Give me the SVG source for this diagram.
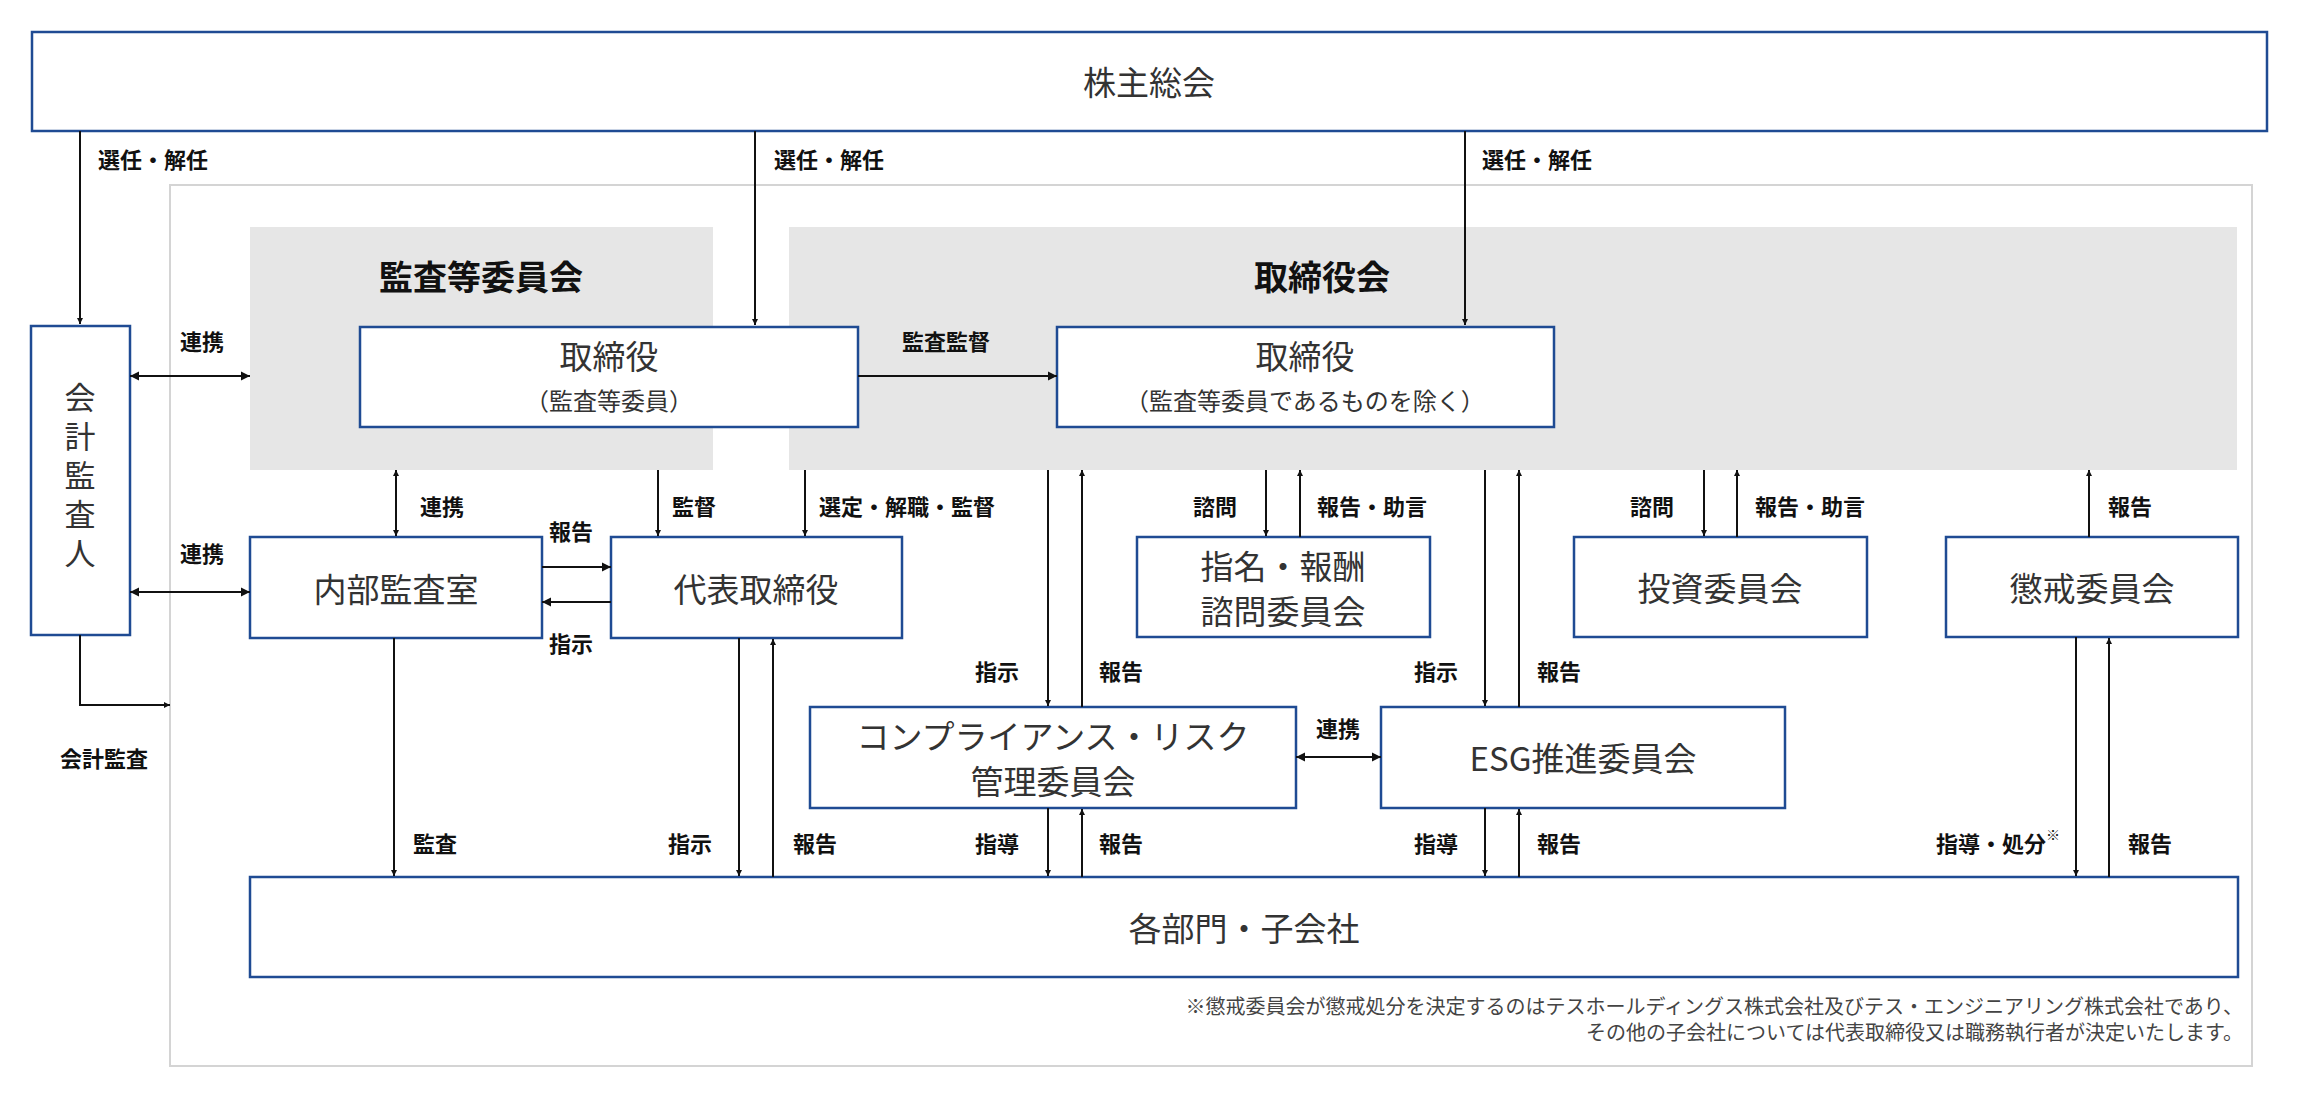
<svg xmlns="http://www.w3.org/2000/svg" width="2304" height="1100" viewBox="0 0 2304 1100">
<style>
.box{fill:#fff;stroke:#1f4b93;stroke-width:2.5}
.panel{fill:#e6e6e6}
.t{font-family:"Noto Sans CJK JP","Noto Sans",sans-serif;fill:#333;text-anchor:middle;dominant-baseline:central}
.n{font-size:33px}
.s{font-size:24px}
.h{font-size:34px;font-weight:bold;fill:#111}
.l{font-family:"Noto Sans CJK JP","Noto Sans",sans-serif;font-size:22px;font-weight:bold;fill:#111;dominant-baseline:central}
.c{stroke:#111;stroke-width:2;fill:none}
.f{font-family:"Noto Sans CJK JP","Noto Sans",sans-serif;font-size:20px;fill:#444;text-anchor:end}
</style>
<defs>
<marker id="a" viewBox="0 0 10 10" refX="10" refY="5" markerWidth="6" markerHeight="8" orient="auto-start-reverse" markerUnits="userSpaceOnUse"><path d="M0,0L10,5L0,10z" fill="#111"/></marker>
<marker id="b" viewBox="0 0 10 10" refX="10" refY="5" markerWidth="9" markerHeight="12" orient="auto-start-reverse" markerUnits="userSpaceOnUse"><path d="M0,0L10,5L0,10z" fill="#111"/></marker>
</defs>
<rect x="170" y="185" width="2082" height="881" fill="none" stroke="#d4d4d4" stroke-width="2"/>
<g id="panel-audit"><rect class="panel" x="250" y="227" width="463" height="243"/><text class="t h" x="481" y="275">監査等委員会</text></g>
<g id="panel-board"><rect class="panel" x="789" y="227" width="1448" height="243"/><text class="t h" x="1322" y="275">取締役会</text></g>
<g id="shareholders"><rect class="box" x="32" y="32" width="2235" height="99"/><text class="t n" x="1149" y="81">株主総会</text></g>
<g id="auditor"><rect class="box" x="31" y="326" width="99" height="309"/>
<text x="80" y="479" writing-mode="vertical-rl" text-anchor="middle" letter-spacing="8" font-family="Noto Sans CJK JP, Noto Sans, sans-serif" font-size="31" fill="#333">会計監査人</text></g>
<g id="director-ac"><rect class="box" x="360" y="327" width="498" height="100"/><text class="t n" x="609" y="355">取締役</text><text class="t s" x="609" y="399">（監査等委員）</text></g>
<g id="director"><rect class="box" x="1057" y="327" width="497" height="100"/><text class="t n" x="1305" y="355">取締役</text><text class="t s" x="1305" y="399">（監査等委員であるものを除く）</text></g>
<g id="internal-audit"><rect class="box" x="250" y="537" width="292" height="101"/><text class="t n" x="396" y="588">内部監査室</text></g>
<g id="ceo"><rect class="box" x="611" y="537" width="291" height="101"/><text class="t n" x="756" y="588">代表取締役</text></g>
<g id="nomination"><rect class="box" x="1137" y="537" width="293" height="100"/><text class="t n" x="1283" y="565">指名・報酬</text><text class="t n" x="1283" y="610">諮問委員会</text></g>
<g id="investment"><rect class="box" x="1574" y="537" width="293" height="100"/><text class="t n" x="1720" y="587">投資委員会</text></g>
<g id="discipline"><rect class="box" x="1946" y="537" width="292" height="100"/><text class="t n" x="2092" y="587">懲戒委員会</text></g>
<g id="compliance"><rect class="box" x="810" y="707" width="486" height="101"/><text class="t n" x="1053" y="735">コンプライアンス・リスク</text><text class="t n" x="1053" y="780">管理委員会</text></g>
<g id="esg"><rect class="box" x="1381" y="707" width="404" height="101"/><text class="t n" x="1583" y="757">ESG推進委員会</text></g>
<g id="departments"><rect class="box" x="250" y="877" width="1988" height="100"/><text class="t n" x="1244" y="927">各部門・子会社</text></g>
<g id="connectors">
<path class="c" d="M80,131V324" marker-end="url(#a)"/>
<path class="c" d="M755,131V325" marker-end="url(#a)"/>
<path class="c" d="M1465,131V325" marker-end="url(#a)"/>
<path class="c" d="M130,376H250" marker-start="url(#b)" marker-end="url(#b)"/>
<path class="c" d="M858,376H1057" marker-end="url(#b)"/>
<path class="c" d="M130,592H250" marker-start="url(#b)" marker-end="url(#b)"/>
<path class="c" d="M80,635V705H170" marker-end="url(#a)"/>
<path class="c" d="M396,470V536" marker-start="url(#a)" marker-end="url(#a)"/>
<path class="c" d="M658,470V536" marker-end="url(#a)"/>
<path class="c" d="M805,470V536" marker-end="url(#a)"/>
<path class="c" d="M542,567H611" marker-end="url(#b)"/>
<path class="c" d="M611,602H542" marker-end="url(#b)"/>
<path class="c" d="M1048,470V706" marker-end="url(#a)"/>
<path class="c" d="M1082,707V470" marker-end="url(#a)"/>
<path class="c" d="M1266,470V536" marker-end="url(#a)"/>
<path class="c" d="M1300,537V470" marker-end="url(#a)"/>
<path class="c" d="M1485,470V706" marker-end="url(#a)"/>
<path class="c" d="M1519,707V470" marker-end="url(#a)"/>
<path class="c" d="M1704,470V536" marker-end="url(#a)"/>
<path class="c" d="M1737,537V470" marker-end="url(#a)"/>
<path class="c" d="M2089,537V470" marker-end="url(#a)"/>
<path class="c" d="M1296,757H1381" marker-start="url(#b)" marker-end="url(#b)"/>
<path class="c" d="M394,638V876" marker-end="url(#a)"/>
<path class="c" d="M739,638V876" marker-end="url(#a)"/>
<path class="c" d="M773,877V639" marker-end="url(#a)"/>
<path class="c" d="M1048,808V876" marker-end="url(#a)"/>
<path class="c" d="M1082,877V809" marker-end="url(#a)"/>
<path class="c" d="M1485,808V876" marker-end="url(#a)"/>
<path class="c" d="M1519,877V809" marker-end="url(#a)"/>
<path class="c" d="M2076,637V876" marker-end="url(#a)"/>
<path class="c" d="M2109,877V638" marker-end="url(#a)"/>
</g>
<g id="labels">
<text class="l" x="98" y="158">選任・解任</text>
<text class="l" x="774" y="158">選任・解任</text>
<text class="l" x="1482" y="158">選任・解任</text>
<text class="l" x="180" y="340">連携</text>
<text class="l" x="902" y="340">監査監督</text>
<text class="l" x="180" y="552">連携</text>
<text class="l" x="420" y="505">連携</text>
<text class="l" x="672" y="505">監督</text>
<text class="l" x="819" y="505">選定・解職・監督</text>
<text class="l" x="549" y="530">報告</text>
<text class="l" x="549" y="642">指示</text>
<text class="l" x="60" y="757">会計監査</text>
<text class="l" x="1193" y="505">諮問</text>
<text class="l" x="1317" y="505">報告・助言</text>
<text class="l" x="1630" y="505">諮問</text>
<text class="l" x="1755" y="505">報告・助言</text>
<text class="l" x="2108" y="505">報告</text>
<text class="l" x="975" y="670">指示</text>
<text class="l" x="1099" y="670">報告</text>
<text class="l" x="1414" y="670">指示</text>
<text class="l" x="1537" y="670">報告</text>
<text class="l" x="1338" y="727" text-anchor="middle">連携</text>
<text class="l" x="413" y="842">監査</text>
<text class="l" x="668" y="842">指示</text>
<text class="l" x="793" y="842">報告</text>
<text class="l" x="975" y="842">指導</text>
<text class="l" x="1099" y="842">報告</text>
<text class="l" x="1414" y="842">指導</text>
<text class="l" x="1537" y="842">報告</text>
<text class="l" x="2060" y="842" text-anchor="end">指導・処分<tspan font-size="14" font-weight="normal" dy="-8">※</tspan></text>
<text class="l" x="2128" y="842">報告</text>
</g>
<text class="f" x="2243" y="1014">※懲戒委員会が懲戒処分を決定するのはテスホールディングス株式会社及びテス・エンジニアリング株式会社であり、</text>
<text class="f" x="2243" y="1040">その他の子会社については代表取締役又は職務執行者が決定いたします。</text>
</svg>
